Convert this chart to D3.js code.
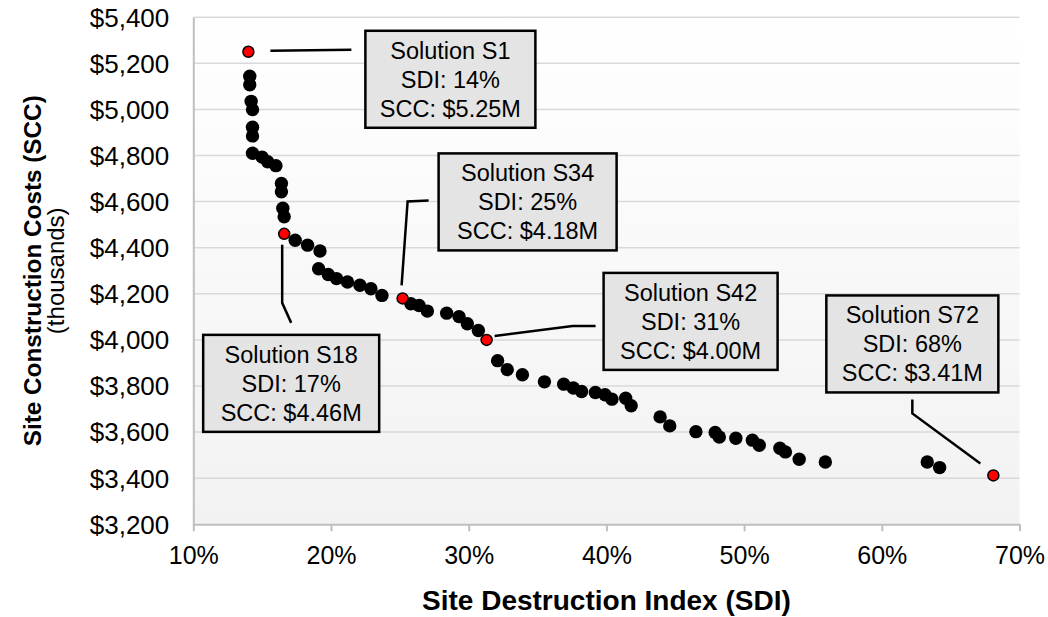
<!DOCTYPE html>
<html>
<head>
<meta charset="utf-8">
<script src="https://cdn.jsdelivr.net/npm/d3@7"></script>
<style>
  body { margin: 0; background: #fff; }
  svg text { font-family: "Liberation Sans", Arial, sans-serif; fill: #000; }
</style>
</head>
<body>
<div id="chart"></div>
<script>
// Pareto front: site destruction index (%) vs site construction costs ($ thousands)
var sdiValues = [14.1, 14.1, 14.2, 14.3, 14.3, 14.3, 14.3, 15.0, 15.4, 16.0, 16.4, 16.4, 16.5, 16.6,
    17.4, 18.3, 19.2, 19.1, 19.8, 20.4, 21.2, 22.1, 22.9, 23.7,
    25.8, 26.4, 27.0, 28.4, 29.3, 29.9, 30.7,
    32.1, 32.8, 33.9, 35.5, 36.9, 37.6, 38.2, 39.2, 39.9, 40.4, 41.4, 41.8,
    43.9, 44.6, 46.5, 47.9, 48.2, 49.4, 50.6, 51.1, 52.6, 53.0, 54.0, 55.9,
    63.3, 64.2];
var sccValues = [5144, 5107, 5035, 4999, 4923, 4885, 4810, 4793, 4773, 4756, 4679, 4643, 4571, 4534,
    4432, 4411, 4386, 4309, 4284, 4266, 4251, 4237, 4222, 4193,
    4157, 4149, 4125, 4116, 4101, 4070, 4041,
    3910, 3871, 3849, 3818, 3808, 3791, 3776, 3772, 3762, 3743, 3747, 3714,
    3666, 3627, 3602, 3598, 3579, 3573, 3565, 3543, 3530, 3514, 3482, 3470,
    3470, 3446];

// highlighted solutions
var solutionNames = ["S1", "S18", "S34", "S42", "S72"];
var solutionSdi = [14.0, 16.6, 25.2, 31.3, 68.1];
var solutionScc = [5250, 4460, 4180, 4000, 3412];

// tick labels
var xTicks = [10, 20, 30, 40, 50, 60, 70];
var yTicks = [3200, 3400, 3600, 3800, 4000, 4200, 4400, 4600, 4800, 5000, 5200, 5400];

// callout layout (pixel offsets from the highlighted point)
var calloutLayout = [
    { box: [117, -21, 170], line: [[22, -1], [103, -2]] },
    { box: [-81, 101, 176], line: [[-2, 11], [-2, 69], [7, 89]] },
    { box: [36, -145, 178], line: [[-1, -13], [5, -97], [26, -98]] },
    { box: [117, -67, 174], line: [[8, -4], [86, -14], [109, -14]] },
    { box: [-167, -180, 172], line: [[-13, -12], [-81, -62], [-81, -76]] }
];

var width = 1048, height = 617;
var margin = { top: 17.2, right: 28.5, bottom: 92.7, left: 193.3 };
var innerW = width - margin.left - margin.right,
    innerH = height - margin.top - margin.bottom;

var svg = d3.select("#chart").append("svg")
    .attr("width", width)
    .attr("height", height);

var grad = svg.append("defs").append("linearGradient")
    .attr("id", "bg")
    .attr("x1", 0).attr("y1", 0).attr("x2", 0).attr("y2", 1);
grad.append("stop").attr("offset", "0%").attr("stop-color", "#ffffff");
grad.append("stop").attr("offset", "100%").attr("stop-color", "#f2f2f2");

var g = svg.append("g")
    .attr("transform", "translate(" + margin.left + "," + margin.top + ")");

var xScale = d3.scaleLinear().domain([10, 70]).range([0, innerW]);
var yScale = d3.scaleLinear().domain([3200, 5400]).range([innerH, 0]);

// plot background
g.append("rect")
    .attr("width", innerW)
    .attr("height", innerH)
    .attr("fill", "url(#bg)");

// gridlines
g.append("g")
    .selectAll("line")
    .data(yTicks.slice(1))
    .enter()
    .append("line")
    .attr("x1", 0)
    .attr("x2", innerW)
    .attr("y1", d => yScale(d))
    .attr("y2", d => yScale(d))
    .attr("stroke", "#d9d9d9")
    .attr("stroke-width", 1.5);

// y axis
var yAxis = d3.axisLeft(yScale)
    .tickValues(yTicks)
    .tickSize(0)
    .tickPadding(24)
    .tickFormat(d => "$" + d3.format(",")(d));

var yg = g.append("g").attr("class", "axis y-axis").call(yAxis);
yg.select(".domain").attr("stroke", "#bfbfbf").attr("stroke-width", 2);
yg.selectAll("text")
    .attr("font-size", 26)
    .attr("dy", "0.34em")
    .attr("font-family", null);

// x axis
var xAxis = d3.axisBottom(xScale)
    .tickValues(xTicks)
    .tickSize(7)
    .tickSizeOuter(0)
    .tickPadding(15)
    .tickFormat(d => d + "%");

var xg = g.append("g")
    .attr("class", "axis x-axis")
    .attr("transform", "translate(0," + innerH + ")")
    .call(xAxis);
xg.select(".domain").attr("stroke", "#bfbfbf").attr("stroke-width", 2);
xg.selectAll(".tick line").attr("stroke", "#bfbfbf").attr("stroke-width", 2);
xg.selectAll("text")
    .attr("font-size", 25)
    .attr("font-family", null);

// black solutions
g.append("g")
    .selectAll("circle")
    .data(sdiValues.map((d, i) => ({ sdi: d, scc: sccValues[i] })))
    .enter()
    .append("circle")
    .attr("cx", d => xScale(d.sdi))
    .attr("cy", d => yScale(d.scc))
    .attr("r", 6.7)
    .attr("fill", "#000");

var solutions = solutionNames.map((name, i) => ({
    name: name,
    sdi: solutionSdi[i],
    scc: solutionScc[i],
    layout: calloutLayout[i]
}));

// callouts
var callouts = g.append("g")
    .selectAll("g")
    .data(solutions)
    .enter()
    .append("g")
    .attr("transform", d => "translate(" + xScale(d.sdi) + "," + yScale(d.scc) + ")");

callouts.append("path")
    .attr("d", d => d3.line()(d.layout.line))
    .attr("fill", "none")
    .attr("stroke", "#000")
    .attr("stroke-width", 2.5);

callouts.append("rect")
    .attr("x", d => d.layout.box[0])
    .attr("y", d => d.layout.box[1])
    .attr("width", d => d.layout.box[2])
    .attr("height", 97)
    .attr("fill", "#e4e4e4")
    .attr("stroke", "#000")
    .attr("stroke-width", 2.5);

var labelText = callouts.append("text")
    .attr("text-anchor", "middle")
    .attr("font-size", 23.5);

labelText.selectAll("tspan")
    .data(d => [
        { t: "Solution " + d.name, d: d },
        { t: "SDI: " + Math.round(d.sdi) + "%", d: d },
        { t: "SCC: $" + (d.scc / 1000).toFixed(2) + "M", d: d }
    ])
    .enter()
    .append("tspan")
    .attr("x", l => l.d.layout.box[0] + l.d.layout.box[2] / 2)
    .attr("y", (l, i) => l.d.layout.box[1] + 28 + i * 29)
    .text(l => l.t);

// highlighted points (red)
g.append("g")
    .selectAll("circle")
    .data(solutions)
    .enter()
    .append("circle")
    .attr("cx", d => xScale(d.sdi))
    .attr("cy", d => yScale(d.scc))
    .attr("r", 5.5)
    .attr("fill", "#ff0000")
    .attr("stroke", "#000")
    .attr("stroke-width", 1.5);

// axis titles
svg.append("text")
    .attr("x", margin.left + innerW / 2)
    .attr("y", 610)
    .attr("text-anchor", "middle")
    .attr("font-size", 28)
    .attr("font-weight", "bold")
    .text("Site Destruction Index (SDI)");

svg.append("text")
    .attr("transform", "translate(41," + (margin.top + innerH / 2) + ") rotate(-90)")
    .attr("text-anchor", "middle")
    .attr("font-size", 24.3)
    .attr("font-weight", "bold")
    .text("Site Construction Costs (SCC)");

svg.append("text")
    .attr("transform", "translate(64," + (margin.top + innerH / 2) + ") rotate(-90)")
    .attr("text-anchor", "middle")
    .attr("font-size", 24)
    .text("(thousands)");
</script>
</body>
</html>
